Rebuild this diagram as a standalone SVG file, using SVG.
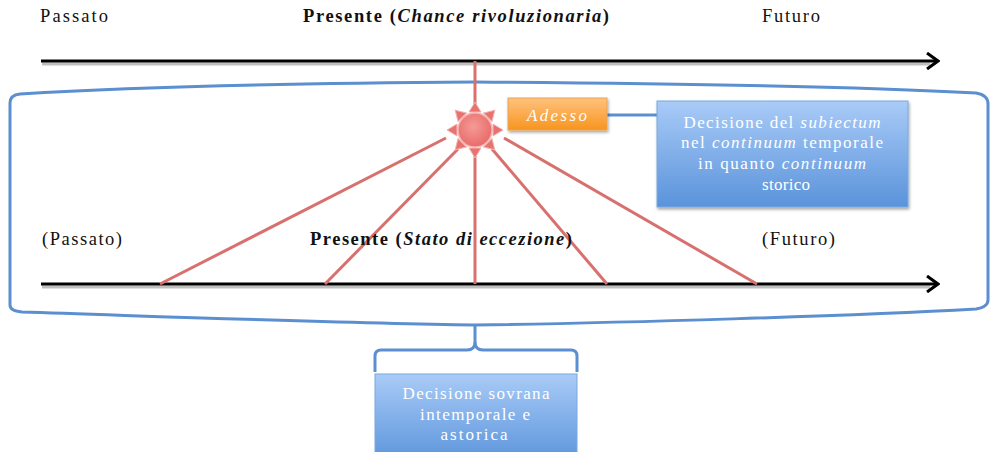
<svg xmlns="http://www.w3.org/2000/svg" width="993" height="452" viewBox="0 0 993 452">
<style>
.lbl{font-family:"Liberation Serif","Times New Roman",serif;font-size:18.5px;fill:#111}
.b{font-weight:bold}
.box{font-family:"Liberation Serif","Times New Roman",serif;font-size:17px;fill:#fff;text-anchor:middle}
.axis{stroke:#000;stroke-width:3;fill:none}
.axsh{stroke:#000;stroke-opacity:0.25;stroke-width:3;fill:none}
.ray{stroke:#d8706e;stroke-width:3;fill:none}
.blue{stroke:#5b8fd0;stroke-width:3;fill:none;stroke-linejoin:round}
</style>
<defs>
<linearGradient id="gBlue" x1="0" y1="0" x2="0" y2="1">
<stop offset="0" stop-color="#a9cbf7"/><stop offset="1" stop-color="#5a93db"/>
</linearGradient>
<linearGradient id="gOr" x1="0" y1="0" x2="0" y2="1">
<stop offset="0" stop-color="#ffc27e"/><stop offset="1" stop-color="#f7951f"/>
</linearGradient>
<radialGradient id="gSun" cx="0.45" cy="0.4" r="0.6">
<stop offset="0" stop-color="#f59a97"/><stop offset="1" stop-color="#e86b68"/>
</radialGradient>
<marker id="chev" viewBox="0 0 14 18" refX="12" refY="9" markerWidth="14" markerHeight="18" markerUnits="userSpaceOnUse" orient="auto">
<path d="M1 1 L12 9 L1 17" fill="none" stroke="#000" stroke-width="3" stroke-linejoin="miter"/>
</marker>
<filter id="sh" x="-5%" y="-5%" width="115%" height="130%">
<feDropShadow dx="1" dy="2" stdDeviation="1.5" flood-color="#000" flood-opacity="0.35"/>
</filter>
</defs>
<rect width="993" height="452" fill="#fff"/>

<g id="labels-top">
<text class="lbl" x="40" y="22" textLength="68" lengthAdjust="spacing">Passato</text>
<text class="lbl b" x="303" y="22" textLength="306" lengthAdjust="spacing">Presente (<tspan font-style="italic">Chance rivoluzionaria</tspan>)</text>
<text class="lbl" x="762" y="22" textLength="58" lengthAdjust="spacing">Futuro</text>
</g>

<g id="brace">
<path class="blue" d="M10 305 L10 103 Q10 95 20 94 C150 86 330 83 475 82 C620 83 850 86 976 93 Q988 95 988 104 L988 300 Q988 307 976 309 C850 316 620 323 475 325 C330 323 150 316 22 312 Q10 311 10 305 Z"/>
<path class="blue" d="M475 325 L475 342 Q475 350 467 350 L381 350 Q375 350 375 356 L375 372"/>
<path class="blue" d="M475 342 Q475 350 483 350 L571 350 Q577 350 577 356 L577 372"/>
</g>

<g id="connectors">
<line class="axsh" x1="42" y1="64" x2="930" y2="64"/>
<line class="axis" x1="41" y1="61" x2="938" y2="61" marker-end="url(#chev)"/>
<line class="axsh" x1="42" y1="287" x2="930" y2="287"/>
<line class="axis" x1="41" y1="284" x2="938" y2="284" marker-end="url(#chev)"/>
<line class="ray" x1="475" y1="61" x2="475" y2="104"/>
<line class="ray" x1="446" y1="138" x2="160" y2="284"/>
<line class="ray" x1="458" y1="149" x2="325" y2="284"/>
<line class="ray" x1="475" y1="153" x2="475" y2="284"/>
<line class="ray" x1="492" y1="149" x2="607" y2="284"/>
<line class="ray" x1="504" y1="138" x2="757" y2="284"/>
<line class="blue" x1="607" y1="115" x2="657" y2="115"/>
</g>

<g id="labels-mid">
<text class="lbl" x="42" y="245" textLength="80" lengthAdjust="spacing">(Passato)</text>
<text class="lbl b" x="310" y="245" textLength="262" lengthAdjust="spacing">Presente (<tspan font-style="italic">Stato di eccezione</tspan>)</text>
<text class="lbl" x="762" y="245" textLength="73" lengthAdjust="spacing">(Futuro)</text>
</g>

<g id="sun">
<g fill="#e8726f" stroke="#f3b3b1" stroke-width="1">
<polygon points="475,102 469,112 481,112"/>
<polygon points="475,102 469,112 481,112" transform="rotate(45 475 130)"/>
<polygon points="475,102 469,112 481,112" transform="rotate(90 475 130)"/>
<polygon points="475,102 469,112 481,112" transform="rotate(135 475 130)"/>
<polygon points="475,102 469,112 481,112" transform="rotate(180 475 130)"/>
<polygon points="475,102 469,112 481,112" transform="rotate(225 475 130)"/>
<polygon points="475,102 469,112 481,112" transform="rotate(270 475 130)"/>
<polygon points="475,102 469,112 481,112" transform="rotate(315 475 130)"/>
</g>
<circle cx="475" cy="130" r="17" fill="url(#gSun)" stroke="#f3b3b1" stroke-width="1.5"/>
</g>

<g id="adesso">
<rect x="508" y="98" width="99" height="32" fill="url(#gOr)" stroke="#e9a352" stroke-width="1" filter="url(#sh)"/>
<text class="box" x="557" y="121" font-style="italic" font-size="18" textLength="60" lengthAdjust="spacing">Adesso</text>
</g>

<g id="box-subiectum">
<rect x="657" y="101" width="251" height="106" fill="url(#gBlue)" stroke="#7aa8dc" stroke-width="1" filter="url(#sh)"/>
<text class="box" x="782" y="128" textLength="197" lengthAdjust="spacing">Decisione del <tspan font-style="italic">subiectum</tspan></text>
<text class="box" x="782" y="148" textLength="202" lengthAdjust="spacing">nel <tspan font-style="italic">continuum</tspan> temporale</text>
<text class="box" x="782" y="169" textLength="168" lengthAdjust="spacing">in quanto <tspan font-style="italic">continuum</tspan></text>
<text class="box" x="786" y="190" textLength="48" lengthAdjust="spacing">storico</text>
</g>

<g id="box-sovrana">
<rect x="375" y="374" width="202" height="90" fill="url(#gBlue)" stroke="#7aa8dc" stroke-width="1"/>
<text class="box" x="476" y="399" textLength="147" lengthAdjust="spacing">Decisione sovrana</text>
<text class="box" x="475" y="420" textLength="110" lengthAdjust="spacing">intemporale e</text>
<text class="box" x="474" y="440" textLength="67" lengthAdjust="spacing">astorica</text>
</g>
</svg>
